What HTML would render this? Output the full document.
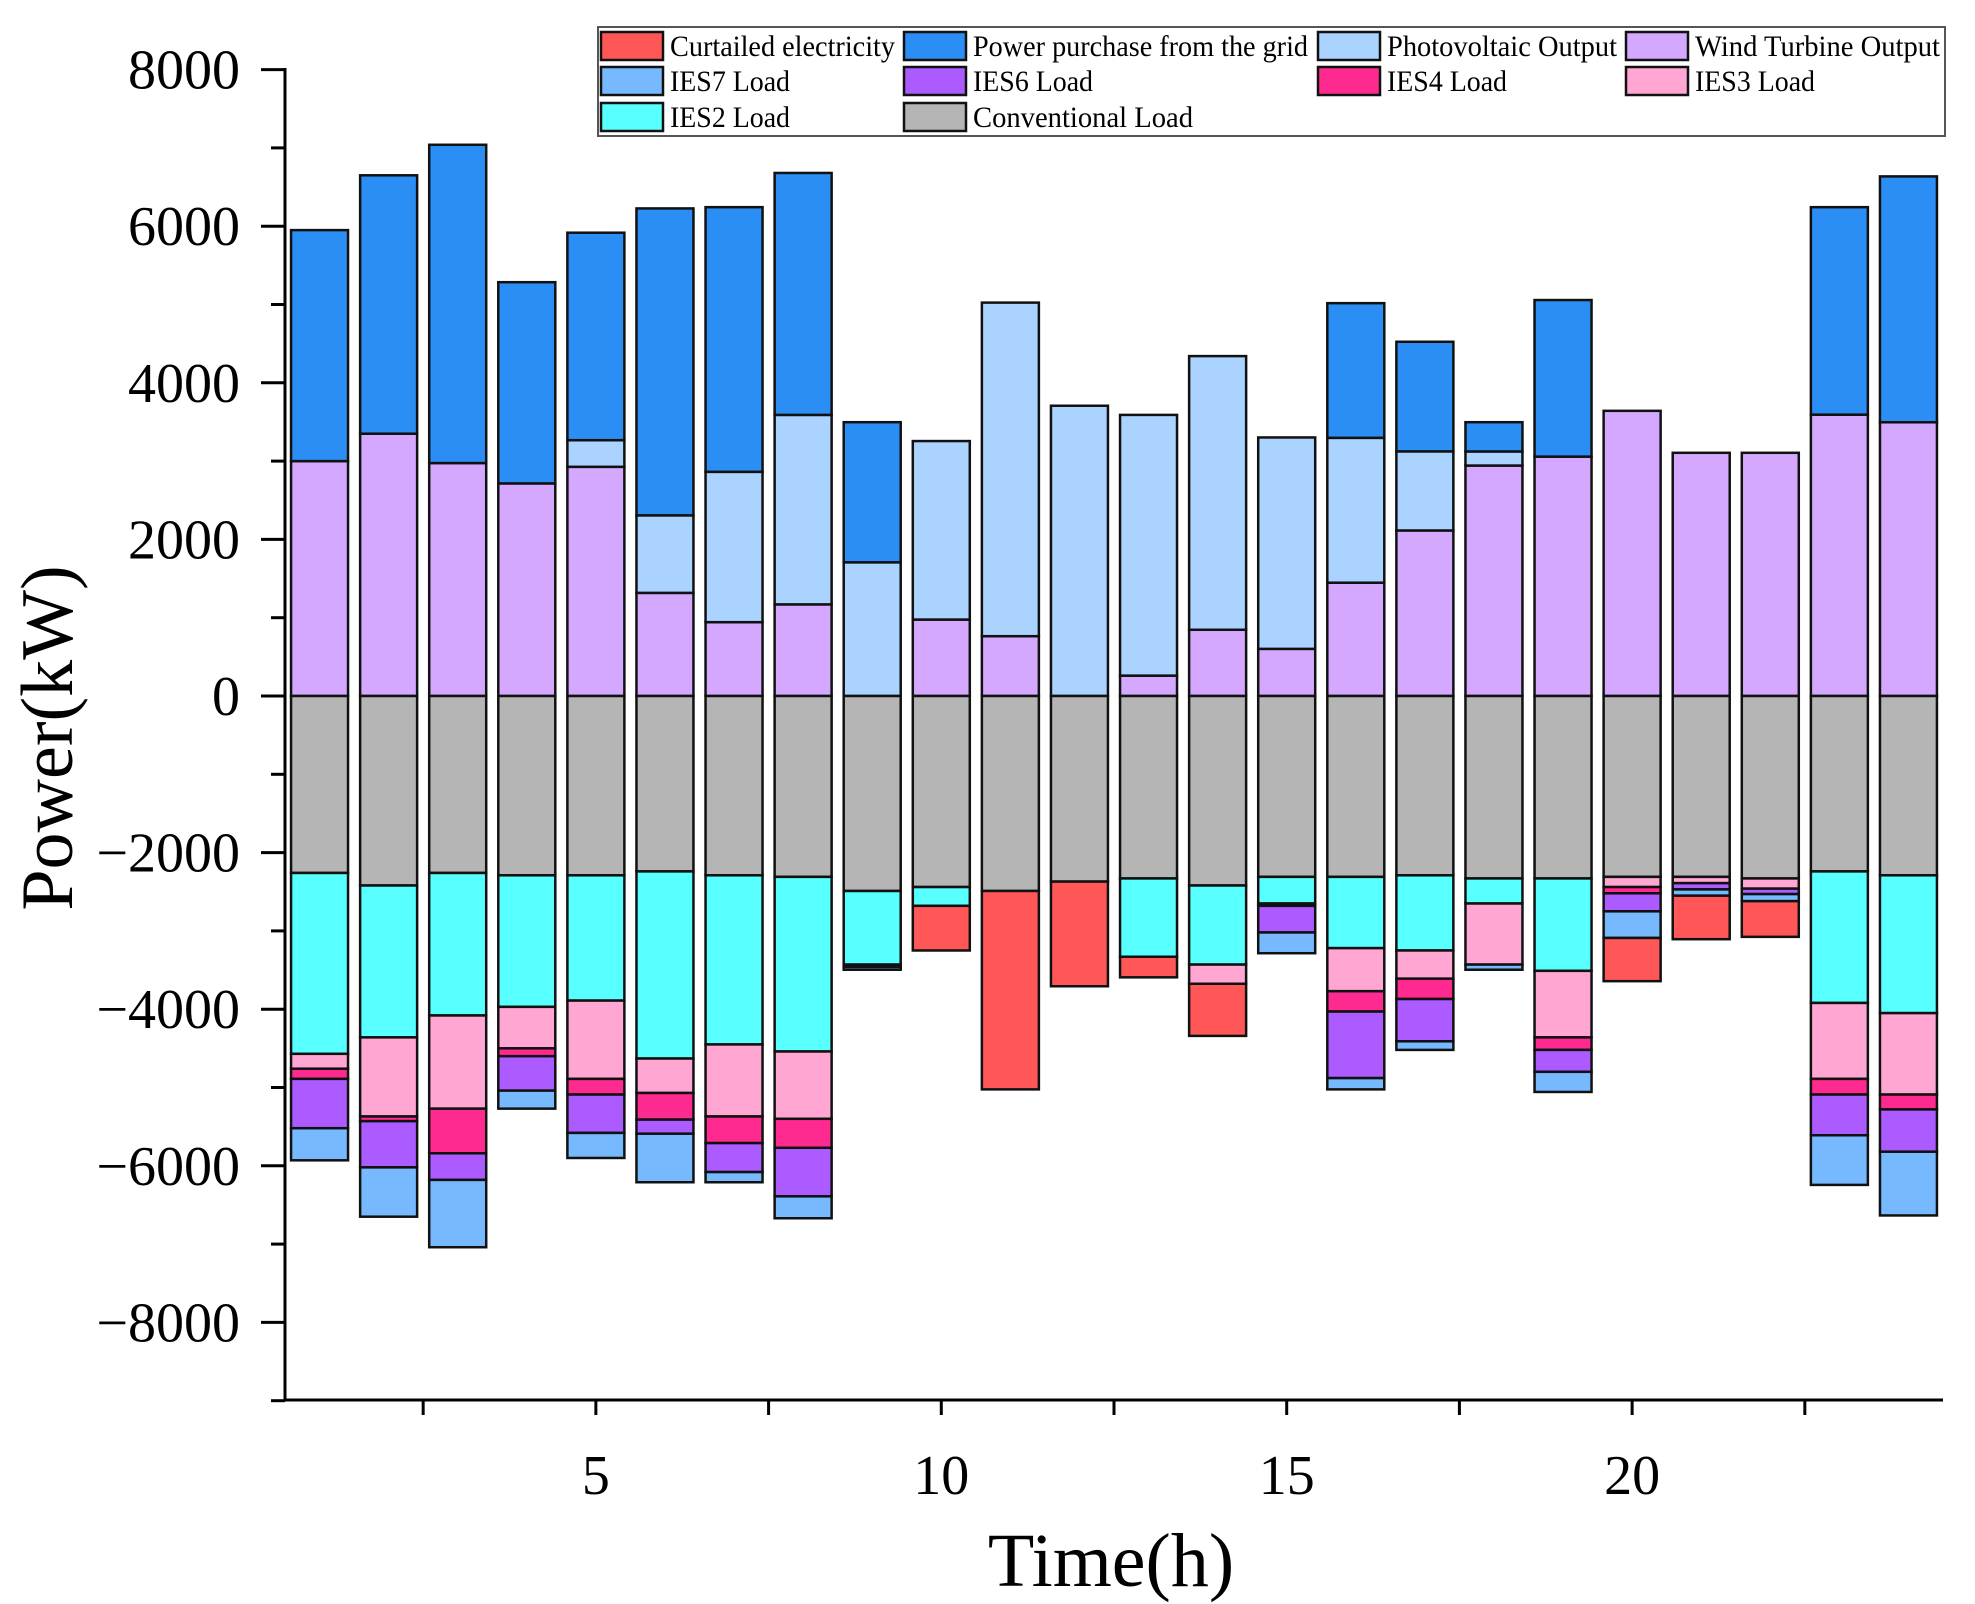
<!DOCTYPE html>
<html><head><meta charset="utf-8"><style>
html,body{margin:0;padding:0;background:#fff;}
svg{display:block;font-family:"Liberation Serif",serif;}
</style></head><body>
<svg id="chart" width="1975" height="1604" viewBox="0 0 1975 1604" xmlns="http://www.w3.org/2000/svg">
<g id="bars"></g>
<g id="axes"></g>
<g id="legend"></g>
</svg>
<script>
const hours = [1,2,3,4,5,6,7,8,9,10,11,12,13,14,15,16,17,18,19,20,21,22,23,24];
const windOut = [3000,3350,2975,2715,2927,1317,943,1170,0,976,764,0,260,846,602,1447,2114,2943,3057,3642,3106,3106,3593,3496];
const pvOut   = [0,0,0,0,340,990,1920,2420,1707,2280,4260,3707,3330,3495,2700,1850,1010,180,0,0,0,0,0,0];
const gridBuy = [2950,3300,4065,2570,2650,3920,3380,3090,1790,0,0,0,0,0,0,1720,1400,374,2000,0,0,0,2650,3140];
const convLoad = [2260,2420,2260,2290,2290,2240,2290,2310,2490,2440,2490,2370,2330,2420,2310,2310,2290,2330,2330,2310,2310,2330,2240,2290];
const ies2Load = [2310,1940,1820,1680,1600,2390,2160,2230,940,240,0,0,1000,1010,340,910,960,320,1180,0,0,0,1680,1760];
const ies3Load = [190,1010,1190,530,1000,440,920,860,30,0,0,0,0,245,30,550,360,780,850,130,80,130,970,1040];
const ies4Load = [130,60,570,100,200,340,340,370,0,0,0,0,0,0,0,260,260,0,160,80,0,0,200,190];
const ies6Load = [630,590,340,440,490,180,370,620,0,0,0,0,0,0,340,850,540,0,280,230,80,70,520,540];
const ies7Load = [410,630,860,230,320,620,130,280,36,0,0,0,0,0,265,144,110,66,257,340,80,90,634,814];
const curtailed = [0,0,0,0,0,0,0,0,0,570,2534,1337,263,666,0,0,0,0,0,552,556,456,0,0];
const yTicks = [-8000,-6000,-4000,-2000,0,2000,4000,6000,8000];
const xTicks = [5,10,15,20];

const NS="http://www.w3.org/2000/svg";
const X0=285,X1=1943,Y0=696,PX=78.3/1000;
const xs=h=>X0+(h-0.5)/24*(X1-X0);
const ys=v=>Y0-v*PX;
function mk(tag,attrs,parent){const e=document.createElementNS(NS,tag);for(const k in attrs)e.setAttribute(k,attrs[k]);parent.appendChild(e);return e;}
const C={wind:"#d4a8ff",pv:"#aad3ff",grid:"#2b8ef5",conv:"#b5b5b5",i2:"#58ffff",i3:"#ffa6d2",i4:"#ff2a90",i6:"#ab5bff",i7:"#77b9ff",cur:"#ff5757"};
const bars=document.getElementById('bars');
const BW=57;
hours.forEach((h,i)=>{
  const pos=[["wind",windOut],["pv",pvOut],["grid",gridBuy]];
  const neg=[["conv",convLoad],["i2",ies2Load],["i3",ies3Load],["i4",ies4Load],["i6",ies6Load],["i7",ies7Load],["cur",curtailed]];
  let acc=0;
  pos.forEach(([k,arr])=>{const v=arr[i];if(v<=0)return;
    const r=mk('rect',{x:xs(h)-BW/2,y:ys(acc+v),width:BW,height:v*PX,fill:C[k],stroke:"#111","stroke-width":2.5},bars);
    
    
    acc+=v;});
  acc=0;
  neg.forEach(([k,arr])=>{const v=arr[i];if(v<=0)return;
    const r=mk('rect',{x:xs(h)-BW/2,y:ys(-acc),width:BW,height:v*PX,fill:C[k],stroke:"#111","stroke-width":2.5},bars);
    
    
    acc+=v;});
});
const ax=document.getElementById('axes');
const yl=mk('line',{x1:X0,y1:68,x2:X0,y2:1401,stroke:"#000","stroke-width":3},ax);


const xl=mk('line',{x1:X0-1,y1:1400,x2:X1,y2:1400,stroke:"#000","stroke-width":3},ax);


for(let v=-9000;v<=8000;v+=1000){
  const major=v%2000===0;
  mk('line',{x1:X0-(major?24:14),y1:ys(v),x2:X0,y2:ys(v),stroke:"#000","stroke-width":3},ax);
}
yTicks.forEach(v=>{
  const t=mk('text',{x:240,y:ys(v)+19,"text-anchor":"end","font-size":56},ax);
  t.textContent=(v<0?"\u2212":"")+Math.abs(v);
  
  
});
for(let h=2.5;h<=24.5;h+=2.5){
  mk('line',{x1:xs(h),y1:1400,x2:xs(h),y2:1415,stroke:"#000","stroke-width":3},ax);
}
xTicks.forEach(h=>{
  const t=mk('text',{x:xs(h),y:1494,"text-anchor":"middle","font-size":56},ax);
  t.textContent=h;
  
  
});
const xt=mk('text',{x:1111,y:1586,"text-anchor":"middle","font-size":76},ax);
xt.textContent="Time(h)";


const yt=mk('text',{x:0,y:0,"text-anchor":"middle","font-size":74,transform:"translate(72,738) rotate(-90)"},ax);
yt.textContent="Power(kW)";



const lg=document.getElementById('legend');
const lb=mk('rect',{x:598,y:27,width:1347,height:109,fill:"#fff",stroke:"#555","stroke-width":2},lg);


const items=[["cur","Curtailed electricity",0,0,225],["grid","Power purchase from the grid",1,0,335],["pv","Photovoltaic Output",2,0,230],["wind","Wind Turbine Output",3,0,245],
["i7","IES7 Load",0,1,120],["i6","IES6 Load",1,1,120],["i4","IES4 Load",2,1,120],["i3","IES3 Load",3,1,120],
["i2","IES2 Load",0,2,120],["conv","Conventional Load",1,2,220]];
const colX=[601,904,1318,1626],rowY=[46,81,117];
items.forEach(([k,label,c,r,w])=>{
  const s=mk('rect',{x:colX[c],y:rowY[r]-14,width:62,height:28,fill:C[k],stroke:"#111","stroke-width":2.5},lg);
  
  
  const t=mk('text',{x:colX[c]+69,y:rowY[r]+10,"font-size":30,textLength:w,lengthAdjust:"spacingAndGlyphs"},lg);
  t.textContent=label;
  
  
});
</script>
</body></html>
